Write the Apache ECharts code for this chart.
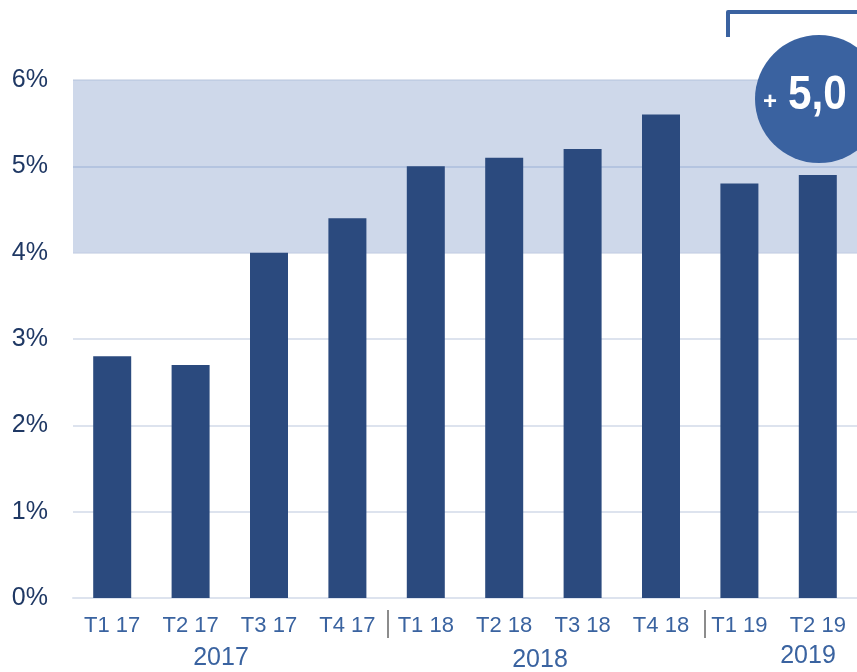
<!DOCTYPE html>
<html>
<head>
<meta charset="utf-8">
<script src="https://cdn.jsdelivr.net/npm/echarts@6/dist/echarts.min.js"></script>
<style>
  html, body { margin: 0; padding: 0; background: #fff; }
  #chart { width: 857px; height: 672px; }
</style>
</head>
<body>
<div id="chart"></div>
<script>
const quarters = ['T1 17', 'T2 17', 'T3 17', 'T4 17', 'T1 18', 'T2 18', 'T3 18', 'T4 18', 'T1 19', 'T2 19'];
const rates = [2.8, 2.7, 4.0, 4.4, 5.0, 5.1, 5.2, 5.6, 4.8, 4.9];
const years = ['2017', '2018', '2019'];
const yearPos = [[221, 658], [540, 660], [808, 656]];
const bandRange = [4, 6];
const badge = { sign: '+', value: '5,0' };

const chart = echarts.init(document.getElementById('chart'));

const yearTexts = years.map((y, i) => ({
  type: 'text',
  x: yearPos[i][0],
  y: yearPos[i][1],
  style: {
    text: y,
    fill: '#3a63a0',
    font: '25px "Liberation Sans", Arial, sans-serif',
    align: 'center',
    verticalAlign: 'middle'
  }
}));

const option = {
  animation: false,
  grid: {
    left: 73,
    top: 80,
    width: 790,
    height: 518
  },
  xAxis: {
    type: 'category',
    data: quarters,
    axisLine: { lineStyle: { color: '#dde3ee', width: 2 } },
    axisTick: { show: false },
    axisLabel: {
      color: '#3a63a0',
      fontSize: 22,
      fontFamily: '"Liberation Sans", Arial, sans-serif',
      margin: 17,
      interval: 0
    }
  },
  yAxis: {
    type: 'value',
    min: 0,
    max: 6,
    interval: 1,
    axisLine: { show: false },
    axisTick: { show: false },
    axisLabel: {
      formatter: '{value}%',
      color: '#1f3864',
      fontSize: 25,
      fontFamily: '"Liberation Sans", Arial, sans-serif',
      margin: 25
    },
    splitLine: { lineStyle: { color: '#dde3ee', width: 2 } }
  },
  series: [
    {
      // shaded target band + its mid line, kept underneath the bars
      type: 'line',
      data: [],
      z: 1,
      markArea: {
        silent: true,
        z: 1,
        itemStyle: { color: 'rgba(174, 190, 220, 0.6)' },
        data: [[{ yAxis: bandRange[0] }, { yAxis: bandRange[1] }]]
      },
      markLine: {
        silent: true,
        z: 1,
        symbol: 'none',
        label: { show: false },
        lineStyle: { color: '#b4c4e0', width: 2, type: 'solid' },
        data: [{ yAxis: 5 }]
      }
    },
    {
      type: 'bar',
      data: rates,
      barWidth: 38,
      itemStyle: { color: '#2b4a7e' },
      z: 3
    }
  ],
  graphic: [
    ...yearTexts,
    {
      type: 'line',
      shape: { x1: 388, y1: 610, x2: 388, y2: 638 },
      style: { stroke: '#8c8c8c', lineWidth: 2 }
    },
    {
      type: 'line',
      shape: { x1: 705, y1: 610, x2: 705, y2: 638 },
      style: { stroke: '#8c8c8c', lineWidth: 2 }
    },
    {
      type: 'polyline',
      shape: { points: [[728, 37], [728, 12], [870, 12]] },
      style: { stroke: '#3a62a0', lineWidth: 4, fill: null, lineJoin: 'round' }
    },
    {
      type: 'circle',
      z: 50,
      shape: { cx: 819, cy: 99, r: 64 },
      style: { fill: '#3a62a0' }
    },
    {
      type: 'text',
      z: 51,
      x: 770,
      y: 102,
      style: {
        text: badge.sign,
        fill: '#fff',
        font: 'bold 24px "Liberation Sans", Arial, sans-serif',
        align: 'center',
        verticalAlign: 'middle'
      }
    },
    {
      type: 'text',
      z: 51,
      x: 788,
      y: 96,
      scaleX: 0.88,
      style: {
        text: badge.value,
        fill: '#fff',
        font: 'bold 48px "Liberation Sans", Arial, sans-serif',
        align: 'left',
        verticalAlign: 'middle'
      }
    }
  ]
};

chart.setOption(option);
</script>
</body>
</html>
